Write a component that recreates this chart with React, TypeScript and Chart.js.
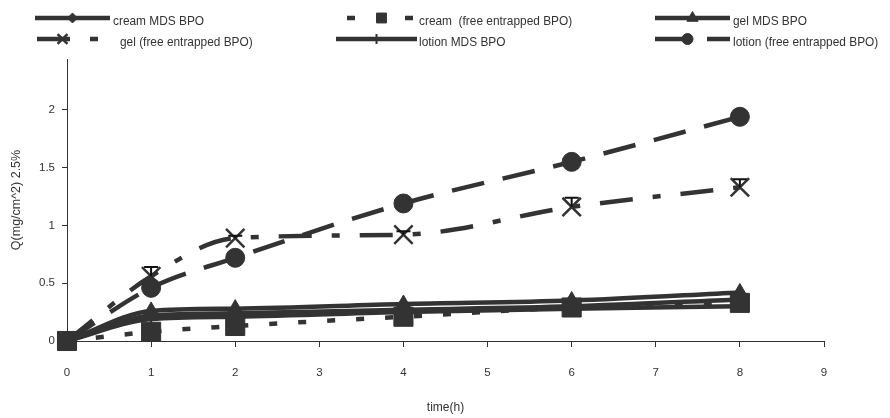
import React, { useEffect, useRef } from "react";
import { Chart, registerables } from "chart.js";
import { drawPoint } from "chart.js/helpers";

Chart.register(...registerables);

// ---- data ----
const times = [0, 1, 2, 4, 6, 8];
const creamMDS = [0, 0.22, 0.24, 0.27, 0.3, 0.36];
const creamFree = [0, 0.08, 0.13, 0.21, 0.29, 0.33];
const gelMDS = [0, 0.26, 0.28, 0.32, 0.35, 0.42];
const gelFree = [0, 0.56, 0.89, 0.92, 1.16, 1.33];
const gelFreeErr = [0, 0.08, 0.02, 0.03, 0.08, 0.07];
const lotionMDS = [0, 0.19, 0.21, 0.25, 0.28, 0.3];
const lotionFree = [0, 0.46, 0.72, 1.19, 1.55, 1.94];
const xTickValues = [0, 1, 2, 3, 4, 5, 6, 7, 8, 9];
const yTickValues = [0, 0.5, 1, 1.5, 2];
const seriesNames = [
  "cream MDS BPO",
  "cream  (free entrapped BPO)",
  "gel MDS BPO",
  "gel (free entrapped BPO)",
  "lotion MDS BPO",
  "lotion (free entrapped BPO)",
];
const xTitle = "time(h)";
const yTitle = "Q(mg/cm^2) 2.5%";

const INK = "#333333";
const SANS = "'Liberation Sans', Arial, sans-serif";

const toPts = (vals: number[]) => vals.map((v, i) => ({ x: times[i], y: v }));

type Style = {
  dash: number[];
  pointStyle: string;
  radius: number;
  legendRadius: number;
  pointBorder: number;
  order: number;
};

const styles: Style[] = [
  { dash: [], pointStyle: "rectRot", radius: 6, legendRadius: 5, pointBorder: 1, order: 2 },
  { dash: [8, 21], pointStyle: "rect", radius: 13.5, legendRadius: 7, pointBorder: 1, order: 0 },
  { dash: [], pointStyle: "triangle", radius: 9, legendRadius: 6.5, pointBorder: 1, order: 1 },
  { dash: [33, 20, 8, 20], pointStyle: "crossRot", radius: 13, legendRadius: 7, pointBorder: 2.5, order: 3 },
  { dash: [], pointStyle: "cross", radius: 6, legendRadius: 5, pointBorder: 2, order: 4 },
  { dash: [33, 19], pointStyle: "circle", radius: 9.5, legendRadius: 5.5, pointBorder: 1, order: 5 },
];

const seriesValues = [creamMDS, creamFree, gelMDS, gelFree, lotionMDS, lotionFree];

// legend layout (x1, x2 line span, text x, row)
const legendPos = [
  { x1: 35, x2: 110, tx: 113, row: 0 },
  { x1: 347, x2: 416, tx: 419, row: 0 },
  { x1: 655, x2: 730, tx: 733, row: 0 },
  { x1: 37, x2: 118, tx: 120, row: 1 },
  { x1: 336, x2: 417, tx: 419, row: 1 },
  { x1: 655, x2: 730, tx: 733, row: 1 },
];
const legendRowY = [18, 39];

const legendPlugin = {
  id: "customLegend",
  afterDraw(chart: any) {
    const ctx = chart.ctx;
    ctx.save();
    legendPos.forEach((p, i) => {
      const st = styles[i];
      const y = legendRowY[p.row];
      ctx.strokeStyle = INK;
      ctx.fillStyle = INK;
      ctx.lineWidth = 4.5;
      ctx.lineCap = "butt";
      ctx.setLineDash(st.dash);
      ctx.beginPath();
      ctx.moveTo(p.x1, y);
      ctx.lineTo(p.x2, y);
      ctx.stroke();
      ctx.setLineDash([]);
      ctx.lineWidth = st.pointBorder;
      drawPoint(
        ctx,
        { pointStyle: st.pointStyle, radius: st.legendRadius, borderWidth: st.pointBorder, rotation: 0 } as any,
        (p.x1 + p.x2) / 2 + (i === 3 ? -15 : i === 5 ? -5 : 0),
        y
      );
      ctx.save();
      ctx.translate(p.tx, y + 3);
      ctx.scale(0.88, 1);
      ctx.font = `13.5px ${SANS}`;
      ctx.fillStyle = INK;
      ctx.textBaseline = "middle";
      ctx.textAlign = "left";
      ctx.fillText(seriesNames[i], 0, 0);
      ctx.restore();
    });
    ctx.restore();
  },
};

const errorBarPlugin = {
  id: "errorBars",
  afterDatasetsDraw(chart: any) {
    const ctx = chart.ctx;
    const xs = chart.scales.x;
    const ys = chart.scales.y;
    ctx.save();
    ctx.strokeStyle = "#111111";
    ctx.lineWidth = 2;
    ctx.setLineDash([]);
    gelFree.forEach((v, i) => {
      const e = gelFreeErr[i];
      if (!e) return;
      const px = xs.getPixelForValue(times[i]);
      const y0 = ys.getPixelForValue(v);
      const y1 = ys.getPixelForValue(v + e);
      ctx.beginPath();
      ctx.moveTo(px, y0);
      ctx.lineTo(px, y1);
      ctx.moveTo(px - 7, y1);
      ctx.lineTo(px + 7, y1);
      ctx.stroke();
    });
    ctx.restore();
  },
};

export default function App() {
  const ref = useRef<HTMLCanvasElement>(null);
  useEffect(() => {
    if (!ref.current) return;
    const datasets = seriesValues.map((vals, i) => {
      const st = styles[i];
      return {
        label: seriesNames[i],
        data: toPts(vals),
        order: st.order,
        borderColor: INK,
        backgroundColor: INK,
        borderWidth: 4.5,
        borderDash: st.dash,
        tension: 0.3,
        cubicInterpolationMode: "monotone",
        pointStyle: st.pointStyle,
        pointRadius: st.radius,
        pointBorderWidth: st.pointBorder,
        pointBackgroundColor: INK,
        pointBorderColor: INK,
        fill: false,
        clip: false,
      };
    });
    const chart = new Chart(ref.current, {
      type: "line",
      data: { datasets } as any,
      options: {
        responsive: false,
        devicePixelRatio: 1,
        animation: false,
        layout: { padding: { top: 59, right: 66, left: 0, bottom: 0 } },
        plugins: { legend: { display: false }, tooltip: { enabled: false } },
        scales: {
          x: {
            type: "linear",
            min: 0,
            max: 9,
            afterBuildTicks: (s: any) => {
              s.ticks = xTickValues.map((v) => ({ value: v }));
            },
            afterFit: (s: any) => {
              s.height = 77;
            },
            border: { color: INK, width: 1 },
            grid: { display: true, drawOnChartArea: false, drawTicks: true, tickLength: 6, color: INK, lineWidth: 1 },
            ticks: { color: INK, font: { family: SANS, size: 11.5 }, padding: 19, maxRotation: 0 },
            title: { display: true, text: xTitle, color: INK, font: { family: SANS, size: 12 }, padding: { top: 0, bottom: 3 } },
          },
          y: {
            type: "linear",
            min: 0,
            max: 2.44,
            afterBuildTicks: (s: any) => {
              s.ticks = yTickValues.map((v) => ({ value: v }));
            },
            afterFit: (s: any) => {
              s.width = 67;
            },
            border: { color: INK, width: 1 },
            grid: { display: true, drawOnChartArea: false, drawTicks: true, tickLength: 5, color: INK, lineWidth: 1 },
            ticks: { color: INK, font: { family: SANS, size: 11.5 }, padding: 7, callback: (v: any) => String(v) },
            title: { display: true, text: yTitle, color: INK, font: { family: SANS, size: 12.5 }, padding: { top: 9.5, bottom: 0 } },
          },
        },
      },
      plugins: [legendPlugin, errorBarPlugin],
    } as any);
    return () => chart.destroy();
  }, []);
  return (
    <div style={{ position: "absolute", left: 0, top: 0, width: 890, height: 418, background: "#fff" }}>
      <canvas ref={ref} width={890} height={418} style={{ display: "block" }} />
    </div>
  );
}
